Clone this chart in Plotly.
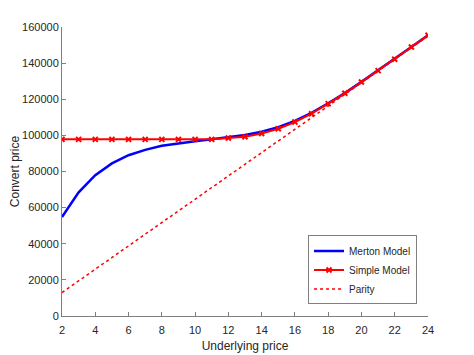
import plotly.graph_objects as go

underlying = list(range(2, 25))
merton = [54800, 68500, 78000, 84500, 89000, 92000, 94200, 95700, 96800, 97800,
          98900, 100200, 102000, 104500, 108000, 112500, 117800, 123400, 129600,
          135900, 142100, 148900, 155400]
simple = [97800, 97800, 97800, 97800, 97800, 97800, 97800, 97800, 97800, 97800,
          98500, 99200, 101000, 103700, 107400, 112000, 117600, 123300, 129550,
          135850, 142100, 148900, 155400]
parity = [13000, 155000]
parity_x = [2, 24]
y_ticks = list(range(0, 160001, 20000))

fig = go.Figure()
fig.add_trace(go.Scatter(x=underlying, y=merton, mode="lines", name="Merton Model",
                         line=dict(color="#0000FF", width=2.5)))
fig.add_trace(go.Scatter(x=underlying, y=simple, mode="lines+markers", name="Simple Model",
                         line=dict(color="#FF0000", width=2),
                         marker=dict(symbol="x-thin", size=5, line=dict(color="#FF0000", width=2))))
fig.add_trace(go.Scatter(x=parity_x, y=parity, mode="lines", name="Parity",
                         line=dict(color="#FF0000", width=1.5, dash="dot")))

font_family = "Liberation Sans, Arial"
axis_common = dict(showline=True, linecolor="#808080", linewidth=1, showgrid=False,
                   zeroline=False, ticks="inside", ticklen=4, tickcolor="#808080",
                   tickfont=dict(family=font_family, size=11, color="#262626"),
                   mirror=False, automargin=False)
fig.update_xaxes(range=[2, 24], tickvals=list(range(2, 25, 2)), ticklabelstandoff=4,
                 title=dict(text="Underlying price", font=dict(family=font_family, size=12, color="#262626"), standoff=6),
                 **axis_common)
fig.update_yaxes(range=[0, 160000], tickvals=y_ticks, ticktext=[str(v) for v in y_ticks],
                 title=dict(text="Convert price", font=dict(family=font_family, size=12, color="#262626"), standoff=6),
                 **axis_common)

fig.update_layout(width=466, height=347, margin=dict(l=54, r=46, t=19, b=39),
                  plot_bgcolor="white", paper_bgcolor="white",
                  legend=dict(x=0.97, y=0.04, xanchor="right", yanchor="bottom",
                              bgcolor="white", bordercolor="#808080", borderwidth=1,
                              font=dict(family=font_family, size=10, color="#262626"),
                              itemwidth=30, tracegroupgap=0),
                  showlegend=True)

fig.write_html("out.html")
